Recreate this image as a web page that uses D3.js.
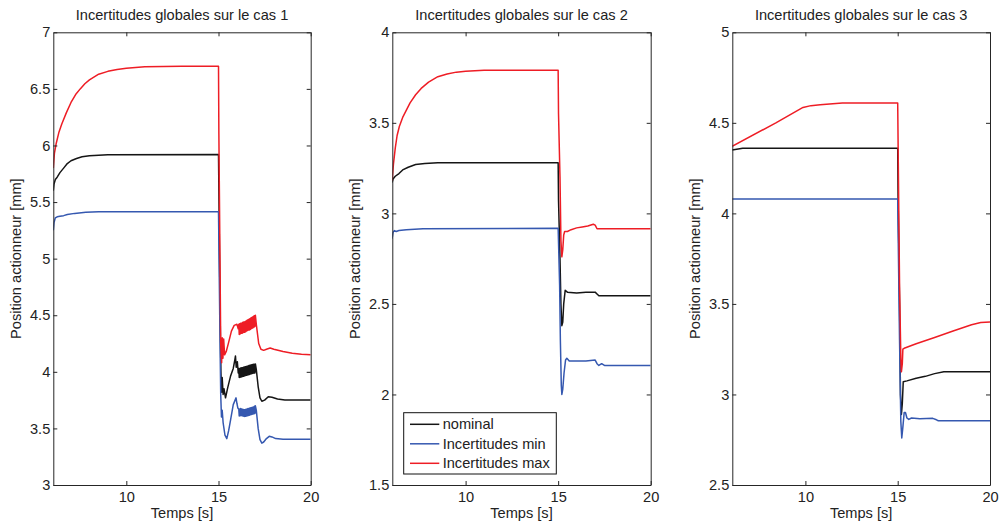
<!DOCTYPE html>
<html><head><meta charset="utf-8">
<script src="https://cdn.jsdelivr.net/npm/d3@7"></script>
<style>
body{margin:0;background:#fff;}
text{font-family:"Liberation Sans",Arial,sans-serif;fill:#222;}
</style></head>
<body><svg id="c" width="999" height="523"></svg>
<script>
// ---------- data ----------
const timeDomain = [6.04, 20];
const xTicks = [10, 15, 20];
const titles = ["Incertitudes globales sur le cas 1","Incertitudes globales sur le cas 2","Incertitudes globales sur le cas 3"];
const yDomains = [[3, 7], [1.5, 4], [2.5, 5]];
const yTicks1 = [3, 3.5, 4, 4.5, 5, 5.5, 6, 6.5, 7];
const yTicks2 = [1.5, 2, 2.5, 3, 3.5, 4];
const yTicks3 = [2.5, 3, 3.5, 4, 4.5, 5];
const xLabel = "Temps [s]";
const yLabel = "Position actionneur [mm]";
const seriesNames = ["nominal", "Incertitudes min", "Incertitudes max"];

// Case 1
const nominal1 = [[6.04,5.60],[6.08,5.66],[6.15,5.70],[6.25,5.72],[6.4,5.76],[6.6,5.80],[6.8,5.84],[7.0,5.865],[7.3,5.885],[7.6,5.90],[8.0,5.91],[9.0,5.918],[15.0,5.92],
 [15.02,5.6],[15.08,4.6],[15.13,4.0],[15.17,3.82],[15.2,3.95],[15.25,3.80],[15.3,3.85],[15.38,3.77],[15.5,3.86],[15.65,3.96],[15.8,4.03],[15.88,4.10],[15.92,4.14],[15.96,4.04],[16.02,4.09],[16.07,3.99],
 [16.100,4.03],[16.125,3.95],[16.150,4.03],[16.175,3.952],[16.200,4.033],[16.225,3.955],[16.250,4.035],[16.275,3.957],[16.300,4.037],[16.325,3.96],[16.350,4.04],[16.375,3.962],[16.400,4.042],[16.425,3.965],[16.450,4.045],[16.475,3.967],[16.500,4.047],[16.525,3.97],[16.550,4.05],[16.575,3.972],[16.600,4.052],[16.625,3.975],[16.650,4.055],[16.675,3.977],[16.700,4.057],[16.725,3.98],[16.750,4.06],[16.775,3.982],[16.800,4.062],[16.825,3.985],[16.850,4.065],[16.875,3.987],[16.900,4.067],[16.925,3.99],[16.950,4.068],[16.975,3.99],[17.000,4.07],
 [17.05,4.02],[17.15,3.87],[17.25,3.77],[17.35,3.74],[17.5,3.75],[17.7,3.78],[17.9,3.775],[18.2,3.76],[18.6,3.752],[19.3,3.75],[20,3.75]];
const min1 = [[6.04,5.25],[6.08,5.32],[6.15,5.36],[6.25,5.37],[6.4,5.375],[6.6,5.38],[6.8,5.39],[7.2,5.40],[7.8,5.41],[8.5,5.415],[15.0,5.415],
 [15.03,5.0],[15.08,4.3],[15.12,3.8],[15.16,3.60],[15.2,3.66],[15.25,3.55],[15.35,3.44],[15.45,3.41],[15.55,3.48],[15.66,3.58],[15.8,3.71],[15.9,3.75],[15.95,3.77],[16.0,3.72],[16.05,3.68],
 [16.100,3.67],[16.125,3.61],[16.150,3.672],[16.175,3.612],[16.200,3.675],[16.225,3.615],[16.250,3.672],[16.275,3.612],[16.300,3.67],[16.325,3.61],[16.350,3.668],[16.375,3.608],[16.400,3.665],[16.425,3.605],[16.450,3.667],[16.475,3.607],[16.500,3.67],[16.525,3.61],[16.550,3.672],[16.575,3.612],[16.600,3.675],[16.625,3.615],[16.650,3.677],[16.675,3.617],[16.700,3.68],[16.725,3.62],[16.750,3.682],[16.775,3.622],[16.800,3.685],[16.825,3.625],[16.850,3.687],[16.875,3.627],[16.900,3.69],[16.925,3.63],[16.950,3.695],[16.975,3.632],[17.000,3.70],
 [17.05,3.66],[17.15,3.50],[17.25,3.40],[17.35,3.37],[17.45,3.38],[17.6,3.41],[17.75,3.43],[17.9,3.425],[18.1,3.41],[18.5,3.405],[20,3.405]];
const max1 = [[6.04,5.80],[6.1,5.93],[6.2,6.02],[6.35,6.12],[6.5,6.19],[6.75,6.29],[7.0,6.38],[7.25,6.45],[7.5,6.50],[7.75,6.545],[8.0,6.58],[8.5,6.63],[9.0,6.655],[9.5,6.672],[10,6.683],[10.5,6.69],[11,6.695],[12,6.698],[13,6.70],[15.0,6.70],
 [15.02,6.10],[15.08,5.0],[15.12,4.25],[15.17,4.08],[15.2,4.30],[15.24,4.12],[15.28,4.29],[15.33,4.15],[15.42,4.18],[15.55,4.26],[15.7,4.36],[15.85,4.41],[16.0,4.42],[16.07,4.38],
 [16.100,4.42],[16.125,4.33],[16.150,4.425],[16.175,4.335],[16.200,4.43],[16.225,4.34],[16.250,4.43],[16.275,4.34],[16.300,4.435],[16.325,4.345],[16.350,4.44],[16.375,4.35],[16.400,4.44],[16.425,4.35],[16.450,4.445],[16.475,4.355],[16.500,4.45],[16.525,4.36],[16.550,4.455],[16.575,4.365],[16.600,4.46],[16.625,4.37],[16.650,4.465],[16.675,4.37],[16.700,4.47],[16.725,4.375],[16.750,4.475],[16.775,4.38],[16.800,4.48],[16.825,4.385],[16.850,4.485],[16.875,4.39],[16.900,4.49],[16.925,4.395],[16.950,4.495],[16.975,4.40],[17.000,4.50],
 [17.05,4.42],[17.18,4.25],[17.3,4.20],[17.45,4.19],[17.6,4.20],[17.8,4.21],[18.0,4.20],[18.5,4.18],[19.0,4.165],[19.5,4.155],[20,4.15]];

// Case 2
const nominal2 = [[6.03,3.17],[6.08,3.19],[6.2,3.205],[6.4,3.22],[6.6,3.24],[6.9,3.255],[7.3,3.27],[7.8,3.275],[8.5,3.28],[15.0,3.28],
 [15.02,3.07],[15.1,2.75],[15.15,2.5],[15.2,2.38],[15.25,2.40],[15.3,2.50],[15.38,2.575],[15.5,2.565],[16,2.56],[16.5,2.565],[17.0,2.565],[17.1,2.555],[17.2,2.545],[20,2.545]];
const min2 = [[6.03,2.86],[6.08,2.895],[6.15,2.905],[6.25,2.90],[6.4,2.905],[6.8,2.91],[7.7,2.915],[15.0,2.918],
 [15.03,2.8],[15.08,2.6],[15.12,2.3],[15.17,2.05],[15.2,2.00],[15.25,2.03],[15.32,2.12],[15.4,2.19],[15.47,2.20],[15.6,2.185],[16,2.185],[16.5,2.185],[17.0,2.19],[17.1,2.17],[17.2,2.16],[17.35,2.17],[17.5,2.16],[20,2.16]];
const max2 = [[6.03,3.18],[6.1,3.27],[6.2,3.36],[6.3,3.43],[6.42,3.48],[6.6,3.53],[6.8,3.57],[7.0,3.61],[7.3,3.655],[7.6,3.69],[8.0,3.725],[8.5,3.755],[9.0,3.77],[9.5,3.78],[10,3.785],[11,3.79],[15.0,3.79],
 [15.02,3.55],[15.1,3.2],[15.15,2.85],[15.2,2.76],[15.25,2.80],[15.3,2.88],[15.35,2.90],[15.5,2.90],[15.7,2.91],[16.0,2.92],[16.3,2.925],[16.6,2.93],[16.9,2.94],[17.0,2.935],[17.1,2.915],[20,2.915]];

// Case 3
const nominal3 = [[6.03,4.35],[6.6,4.36],[15.0,4.36],[15.02,4.1],[15.1,3.5],[15.15,3.0],[15.2,2.89],[15.25,2.95],[15.3,3.07],[15.5,3.075],[16,3.09],[16.5,3.10],[17,3.115],[17.5,3.125],[20,3.125]];
const min3 = [[6.03,4.08],[15.0,4.08],[15.03,3.85],[15.1,3.3],[15.17,2.85],[15.22,2.76],[15.28,2.82],[15.35,2.90],[15.42,2.90],[15.5,2.87],[15.6,2.862],[15.75,2.87],[16.2,2.866],[16.9,2.868],[17.1,2.86],[17.2,2.855],[20,2.855]];
const max3 = [[6.03,4.37],[8.4,4.50],[9.87,4.585],[10.3,4.595],[10.8,4.60],[12.0,4.61],[15.0,4.61],[15.03,4.3],[15.1,3.6],[15.17,3.2],[15.2,3.125],[15.25,3.17],[15.28,3.25],[15.35,3.255],[16.0,3.28],[17.0,3.315],[18.0,3.35],[19.0,3.385],[19.5,3.397],[20,3.40]];

// ---------- layout ----------
const colors = ["#151515", "#3558b0", "#ee1d25"];
const panels = [
  {x0: 53.3, x1: 310.7, yTicks: yTicks1, series: [nominal1, min1, max1], ylabX: 16},
  {x0: 392.3, x1: 650.7, yTicks: yTicks2, series: [nominal2, min2, max2], ylabX: 355},
  {x0: 732.3, x1: 990, yTicks: yTicks3, series: [nominal3, min3, max3], ylabX: 695}
];
const yTop = 32.3, yBot = 485;
const FS = "14.6px";
const svg = d3.select("#c");

panels.forEach((p, i) => {
  const x = d3.scaleLinear().domain(timeDomain).range([p.x0, p.x1]);
  const y = d3.scaleLinear().domain(yDomains[i]).range([yBot, yTop]);
  const g = svg.append("g");
  const clipId = "clip" + i;
  svg.append("clipPath").attr("id", clipId).append("rect")
    .attr("x", p.x0).attr("y", yTop).attr("width", p.x1 - p.x0).attr("height", yBot - yTop);

  const line = d3.line().x(d => x(d[0])).y(d => y(d[1]));
  const lg = g.append("g").attr("clip-path", `url(#${clipId})`);
  p.series.forEach((s, k) => {
    lg.append("path").datum(s).attr("d", line).attr("fill", "none")
      .attr("stroke", colors[k]).attr("stroke-width", 1.5).attr("stroke-linejoin", "round");
  });

  const fmt = d3.format("");
  const styleAxis = sel => {
    sel.selectAll("path.domain").attr("stroke", "#262626").attr("stroke-width", 1);
    sel.selectAll(".tick line").attr("stroke", "#262626");
    sel.selectAll("text").style("font-size", FS).attr("fill", "#222")
      .style("font-family", '"Liberation Sans",Arial,sans-serif');
  };
  g.append("g").attr("transform", `translate(0,${yBot})`)
    .call(d3.axisBottom(x).tickValues(xTicks).tickSizeInner(-4).tickSizeOuter(0).tickPadding(7).tickFormat(fmt))
    .call(styleAxis);
  g.append("g").attr("transform", `translate(0,${yTop})`)
    .call(d3.axisTop(x).tickValues(xTicks).tickSizeInner(-4).tickSizeOuter(0).tickFormat(""))
    .call(styleAxis);
  g.append("g").attr("transform", `translate(${p.x0},0)`)
    .call(d3.axisLeft(y).tickValues(p.yTicks).tickSizeInner(-4).tickSizeOuter(0).tickPadding(3).tickFormat(fmt))
    .call(styleAxis);
  g.append("g").attr("transform", `translate(${p.x1},0)`)
    .call(d3.axisRight(y).tickValues(p.yTicks).tickSizeInner(-4).tickSizeOuter(0).tickFormat(""))
    .call(styleAxis);

  g.append("text").attr("x", (p.x0 + p.x1) / 2).attr("y", 20).attr("text-anchor", "middle")
    .style("font-size", FS).text(titles[i]);
  g.append("text").attr("x", (p.x0 + p.x1) / 2).attr("y", 518).attr("text-anchor", "middle")
    .style("font-size", FS).text(xLabel);
  g.append("text").attr("transform", `translate(${p.ylabX},${(yTop + yBot) / 2}) rotate(-90)`)
    .attr("text-anchor", "middle").attr("dominant-baseline", "central")
    .style("font-size", FS).text(yLabel);

  if (i === 1) {
    const lgd = g.append("g");
    lgd.append("rect").attr("x", 403.7).attr("y", 412.7).attr("width", 152.6).attr("height", 61.3)
      .attr("fill", "#fff").attr("stroke", "#111").attr("stroke-width", 1);
    const rowY = d3.scalePoint().domain(seriesNames).range([424.3, 463.3]);
    seriesNames.forEach((n, k) => {
      lgd.append("line").attr("x1", 410).attr("x2", 439.3).attr("y1", rowY(n)).attr("y2", rowY(n))
        .attr("stroke", colors[k]).attr("stroke-width", 1.5);
      lgd.append("text").attr("x", 442.7).attr("y", rowY(n)).attr("dominant-baseline", "central")
        .style("font-size", FS).text(n);
    });
  }
});
</script></body></html>
